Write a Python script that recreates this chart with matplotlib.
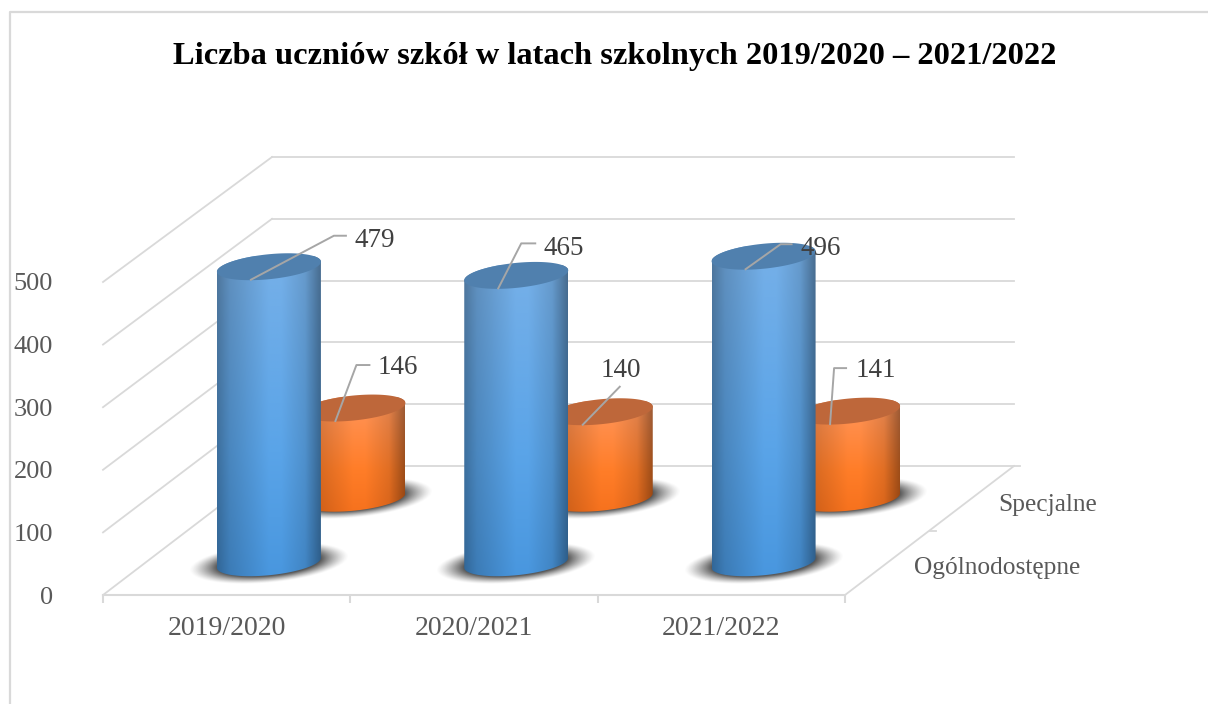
import numpy as np
import matplotlib
matplotlib.use('Agg')
import matplotlib.pyplot as plt
from matplotlib.path import Path

years = ['2019/2020', '2020/2021', '2021/2022']
ogolnodostepne = [479, 465, 496]
specjalne = [146, 140, 141]
depth_labels = ['Ogólnodostępne', 'Specjalne']
title = 'Liczba uczniów szkół w latach szkolnych 2019/2020 – 2021/2022'
yticks = [0, 100, 200, 300, 400, 500]

plt.rcParams['font.family'] = ['Liberation Serif', 'DejaVu Serif']

W, H = 1208, 704
# plot box in pixels
LEFT, RIGHT, BOTTOM, TOP = 103, 845, 595, 282
PXX = (RIGHT - LEFT) / 3          # pixels per category
PXY = (BOTTOM - TOP) / 500        # pixels per student
DEPTH_X = 169 / PXX               # shift of the back wall, data units
DEPTH_Y = 129 / PXY
BACK = 309 / 313                  # the back wall is a bit smaller
GRID = '#d9d9d9'
TEXT = '#595959'

fig = plt.figure(figsize=(W / 100, H / 100), dpi=100)
ax = fig.add_axes([LEFT / W, 1 - BOTTOM / H, (RIGHT - LEFT) / W, (BOTTOM - TOP) / H])
ax.set_xlim(0, 3)
ax.set_ylim(0, 500)
ax.set_autoscale_on(False)
ax.patch.set_visible(False)

# outer frame, only top and left show
fig.add_artist(plt.Line2D([9.5 / W, 9.5 / W, 1], [0, 1 - 11.5 / H, 1 - 11.5 / H],
                          color=GRID, lw=1.6, transform=fig.transFigure))
fig.text(615 / W, 1 - 56.6 / H, title, ha='center', va='center', fontsize=23.4,
         fontweight='bold', color='black')

# axes
for side in ['top', 'right', 'left']:
    ax.spines[side].set_visible(False)
ax.spines['bottom'].set_color(GRID)
ax.spines['bottom'].set_linewidth(1.5)
ax.set_yticks(yticks)
ax.set_yticklabels([str(v) for v in yticks], fontsize=19, color=TEXT)
ax.tick_params(axis='y', length=0, pad=36)
ax.set_xticks([0, 1, 2, 3])
ax.set_xticklabels([])
ax.set_xticks([0.5, 1.5, 2.5], labels=years, minor=True, fontsize=20, color=TEXT)
ax.tick_params(axis='x', which='major', length=6, width=1.5, color=GRID)
ax.tick_params(axis='x', which='minor', length=0, pad=15)

# walls
for v in yticks:
    vb = v * BACK + DEPTH_Y
    ax.plot([0, DEPTH_X], [v, vb], color=GRID, lw=1.3, clip_on=False, zorder=1)
    ax.plot([DEPTH_X, 3 + DEPTH_X], [vb, vb], color=GRID, lw=1.3, clip_on=False, zorder=1)
ax.plot([3, 3 + DEPTH_X], [0, DEPTH_Y], color=GRID, lw=1.3, clip_on=False, zorder=1)
ax.plot([3 + DEPTH_X, 3 + DEPTH_X + 6 / PXX], [DEPTH_Y, DEPTH_Y], color=GRID, lw=1.3, clip_on=False, zorder=1)
ax.plot([3 + DEPTH_X / 2, 3 + DEPTH_X / 2 + 7 / PXX], [DEPTH_Y / 2, DEPTH_Y / 2], color=GRID, lw=1.3, clip_on=False, zorder=1)


def ring(cx, cy, a, b, k, t):
    # slightly tilted ellipse, sizes in pixels
    return cx + a * np.cos(t) / PXX, cy + (b * np.sin(t) + k * np.cos(t)) / PXY


def shadow(cx, cy, z):
    a, b, k = 80, 20, 7
    px = np.linspace(-a * 1.05, a * 1.05, 180)
    py = np.linspace(-b * 1.6, b * 1.6, 90)
    gx, gy = np.meshgrid(px, py)
    r = np.sqrt((gx / a) ** 2 + ((gy - k * gx / a) / b) ** 2)
    rgba = np.zeros(gx.shape + (4,))
    rgba[..., :3] = 0.27
    rgba[..., 3] = np.clip((1.0 - r) / 0.35, 0, 1) ** 1.3 * 0.9
    ax.imshow(rgba, origin='lower', aspect='auto', zorder=z, interpolation='bilinear',
              extent=[cx + px[0] / PXX, cx + px[-1] / PXX, cy + py[0] / PXY, cy + py[-1] / PXY]
              ).set_clip_box(fig.bbox)


def cylinder(cx, cy, height, colors, top_color, z):
    a, b, k = 52, 12.5, 5
    # body outline: front arc of the base, then back over the top
    t = np.linspace(np.pi, 2 * np.pi, 60)
    xb, yb = ring(cx, cy, a, b, k, t)
    xt, yt = ring(cx, cy + height, a, b, k, t - np.pi)
    outline = np.column_stack([np.r_[xb, xt], np.r_[yb, yt]])
    u = np.linspace(0, 1, 120)
    v = np.linspace(0, 1, 200)
    shade = np.interp(u, [0, 0.12, 0.5, 0.62, 0.85, 1], [0.68, 0.82, 1, 1, 0.88, 0.62])
    rows = np.stack([np.interp(v, [0, 0.6, 1], [colors[0][c], colors[1][c], colors[2][c]]) for c in range(3)], axis=1)
    img = rows[:, None, :] * shade[None, :, None] / 255
    im = ax.imshow(img, origin='upper', aspect='auto', zorder=z, interpolation='bilinear',
                   extent=[cx - a / PXX, cx + a / PXX, cy - 20 / PXY, cy + height + 10 / PXY])
    im.set_clip_box(fig.bbox)
    im.set_clip_path(Path(outline), ax.transData)
    xe, ye = ring(cx, cy + height, a, b, k, np.linspace(0, 2 * np.pi, 120))
    ax.fill(xe, ye, color=top_color, lw=0, clip_on=False, zorder=z + 0.1)


BLUE = [(118, 176, 232), (90, 164, 232), (72, 150, 222)]
ORANGE = [(255, 150, 92), (255, 125, 40), (245, 112, 28)]

series = [
    (specjalne, 0.75, ORANGE, (190, 103, 58), 3),
    (ogolnodostepne, 0.25, BLUE, (80, 128, 174), 5),
]
# leader shapes in pixels: elbow x, elbow y, end x from the start
leaders = {
    0.25: [(83, -44, 95), (23, -45, 37), (35, -25, 46)],
    0.75: [(21, -56, 34), (37, -38, 37), (4, -56, 16)],
}
# label position from the leader end, pixels
label_offsets = {
    0.25: [(9, -5), (8, -5), (9, -4)],
    0.75: [(8, -2), (-19, 16), (10, -2)],
}
for vals, d, cols, top, z in series:
    for i, val in enumerate(vals):
        cx = i + 0.5 + d * DEPTH_X
        cy = d * DEPTH_Y
        shadow(cx, cy, z - 1)
        cylinder(cx, cy, val * BACK, cols, tuple(c / 255 for c in top), z)

for vals, d, cols, top, z in series:
    for i, val in enumerate(vals):
        cx = i + 0.5 + d * DEPTH_X
        x0 = cx - 18 / PXX
        y0 = d * DEPTH_Y + val * BACK - 13 / PXY
        ex, ey, end = leaders[d][i]
        ax.plot([x0, x0 + ex / PXX, x0 + end / PXX], [y0, y0 - ey / PXY, y0 - ey / PXY],
                color='#a6a6a6', lw=1.4, clip_on=False, zorder=8)
        ax.annotate(str(val), (x0 + end / PXX, y0 - ey / PXY), xytext=label_offsets[d][i],
                    textcoords='offset pixels', ha='left', va='center', fontsize=19.5,
                    color='#404040', zorder=9, annotation_clip=False)

# depth axis labels
for name, d, shift in zip(depth_labels, [0.25, 0.75], [-5, -7]):
    ax.annotate(name, (3 + d * DEPTH_X, d * DEPTH_Y), xytext=(27, shift), textcoords='offset pixels',
                ha='left', va='center', fontsize=18.3, color=TEXT, annotation_clip=False)

fig.savefig('out.png', dpi=100)
